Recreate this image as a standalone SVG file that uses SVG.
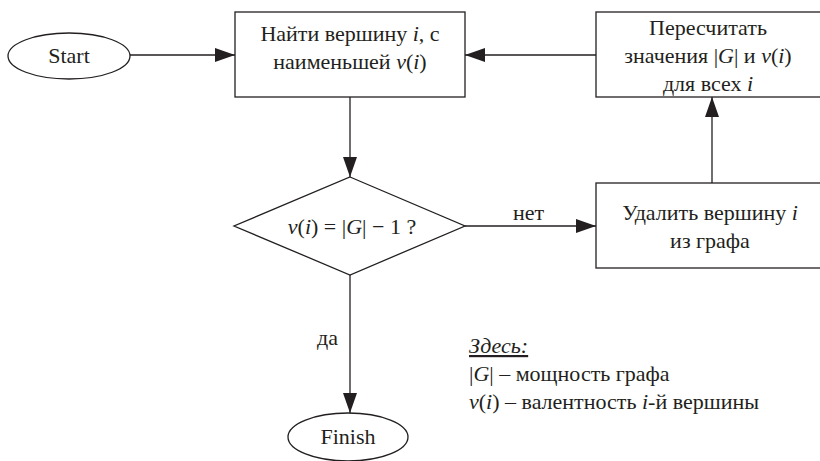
<svg xmlns="http://www.w3.org/2000/svg" width="820" height="461" viewBox="0 0 820 461">
<style>
.s{fill:#fff;stroke:#231f20;stroke-width:1.3}
.t,.l{font-family:"Liberation Serif",Tinos,"Times New Roman","DejaVu Serif",serif;font-size:22px;fill:#231f20}
.t{text-anchor:middle}
.i{font-style:italic}
.c{stroke:#231f20;stroke-width:1.3;fill:none;marker-end:url(#a)}
</style>
<defs>
<marker id="a" markerUnits="userSpaceOnUse" markerWidth="20" markerHeight="14" refX="20" refY="7" orient="auto">
<path d="M0,0 L20,7 L0,14 z" fill="#231f20"/>
</marker>
</defs>
<rect width="820" height="461" fill="#fff"/>
<g id="connectors">
<line class="c" x1="130" y1="55" x2="235" y2="55"/>
<line class="c" x1="596" y1="55" x2="465" y2="55"/>
<line class="c" x1="350" y1="97" x2="350" y2="177"/>
<line class="c" x1="465" y1="226" x2="596" y2="226"/>
<line class="c" x1="712" y1="183" x2="712" y2="97"/>
<line class="c" x1="350" y1="275" x2="350" y2="413"/>
<text class="l" x="513" y="220">нет</text>
<text class="l" x="317" y="345">да</text>
</g>
<g id="start">
<ellipse class="s" cx="69" cy="56" rx="61" ry="23"/>
<text class="t" x="69" y="63">Start</text>
</g>
<g id="find">
<rect class="s" x="235" y="12" width="230" height="85"/>
<text class="t" x="350" y="41">Найти вершину <tspan class="i">i</tspan>, с</text>
<text class="t" x="350" y="69">наименьшей <tspan class="i">v</tspan>(<tspan class="i">i</tspan>)</text>
</g>
<g id="recalc">
<rect class="s" x="596" y="12" width="228" height="85"/>
<text class="t" x="708" y="35">Пересчитать</text>
<text class="t" x="708" y="63">значения |<tspan class="i">G</tspan>| и <tspan class="i">v</tspan>(<tspan class="i">i</tspan>)</text>
<text class="t" x="708" y="91">для всех <tspan class="i">i</tspan></text>
</g>
<g id="decision">
<polygon class="s" points="350,177 465,226 350,275 234,226"/>
<text class="t" x="352" y="234"><tspan class="i">v</tspan>(<tspan class="i">i</tspan>) = |<tspan class="i">G</tspan>| − 1 ?</text>
</g>
<g id="delete">
<rect class="s" x="596" y="183" width="228" height="85"/>
<text class="t" x="710" y="220">Удалить вершину <tspan class="i">i</tspan></text>
<text class="t" x="710" y="248">из графа</text>
</g>
<g id="finish">
<ellipse class="s" cx="348" cy="437" rx="60" ry="24"/>
<text class="t" x="348" y="444">Finish</text>
</g>
<g id="legend">
<text class="l i" x="469" y="353" text-decoration="underline">Здесь:</text>
<text class="l" x="469" y="381">|<tspan class="i">G</tspan>| – мощность графа</text>
<text class="l" x="469" y="409"><tspan class="i">v</tspan>(<tspan class="i">i</tspan>) – валентность <tspan class="i">i</tspan>-й вершины</text>
</g>
</svg>
